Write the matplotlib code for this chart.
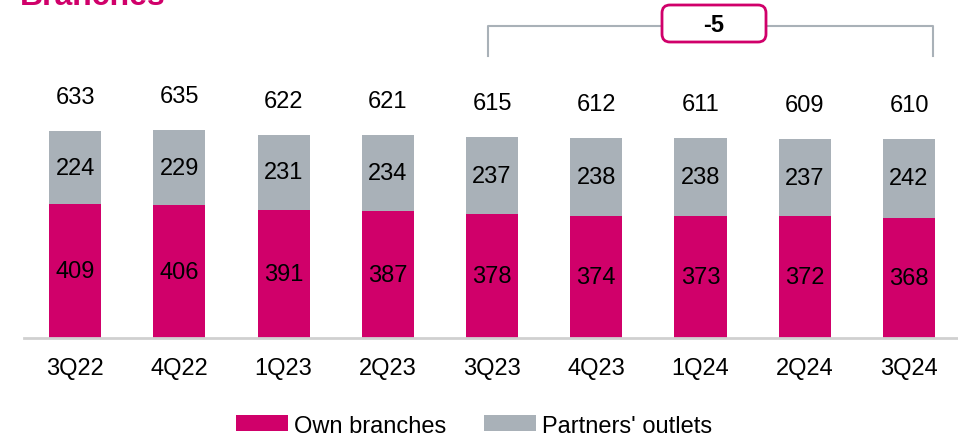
import matplotlib.pyplot as plt
from matplotlib.patches import FancyBboxPatch
import numpy as np

quarters = ["3Q22", "4Q22", "1Q23", "2Q23", "3Q23", "4Q23", "1Q24", "2Q24", "3Q24"]
own_branches = [409, 406, 391, 387, 378, 374, 373, 372, 368]
partners_outlets = [224, 229, 231, 234, 237, 238, 238, 237, 242]
totals = [633, 635, 622, 621, 615, 612, 611, 609, 610]
change_label = "-5"

pink = "#D0006A"
grey = "#A9B1B8"

plt.rcParams['font.family'] = ['Liberation Sans', 'DejaVu Sans']

W, H = 958, 439
fig = plt.figure(figsize=(W / 100, H / 100), dpi=100)
# axes spans x 24..958 px and y 0..339 px from top
ax = fig.add_axes([24 / W, 100 / H, 934 / W, 339 / H])

x = np.arange(len(quarters))
ax.bar(x, own_branches, width=0.5, color=pink, label="Own branches")
ax.bar(x, partners_outlets, width=0.5, bottom=own_branches, color=grey, label="Partners' outlets")

for i in range(len(quarters)):
    ax.text(x[i], own_branches[i] / 2, str(own_branches[i]), ha="center", va="center", fontsize=17)
    ax.text(x[i], own_branches[i] + partners_outlets[i] / 2, str(partners_outlets[i]),
            ha="center", va="center", fontsize=17)
    ax.text(x[i], totals[i] + 104, str(totals[i]), ha="center", va="center", fontsize=17)

ax.set_xlim(-0.49, 8.47)
ax.set_ylim(0, 1037)
ax.set_xticks(x)
ax.set_xticklabels(quarters, fontsize=17)
ax.tick_params(axis="x", length=0, pad=14)
ax.set_yticks([])
for s in ["top", "right", "left"]:
    ax.spines[s].set_visible(False)
ax.spines["bottom"].set_color("#D0D0D0")
ax.spines["bottom"].set_linewidth(2)

# bracket 3Q23 -> 3Q24, drawn in figure pixels
def fx(px):
    return px / W

def fy(py):
    return 1 - py / H

fig.add_artist(plt.Line2D([fx(488), fx(488), fx(933), fx(933)], [fy(57), fy(27), fy(27), fy(57)],
                          color=grey, lw=1.5))
box = FancyBboxPatch((fx(662), fy(43)), 104 / W, 37 / H,
                     boxstyle="round,pad=0,rounding_size=%f" % (8 / W),
                     mutation_aspect=W / H, transform=fig.transFigure,
                     facecolor="white", edgecolor=pink, lw=2, zorder=3)
fig.add_artist(box)
fig.text(fx(714), fy(26), change_label, ha="center", va="center", fontsize=17, fontweight="bold",
         zorder=4)

fig.text(fx(20), fy(5), "Branches", color=pink, fontsize=23, fontweight="bold",
         ha="left", va="baseline")

fig.legend(loc="lower center", bbox_to_anchor=(0.495, -0.045), ncol=2, frameon=False, fontsize=17,
           handlelength=2.2, handleheight=0.65, handletextpad=0.25, columnspacing=1.6)

fig.savefig("out.png", dpi=100)
